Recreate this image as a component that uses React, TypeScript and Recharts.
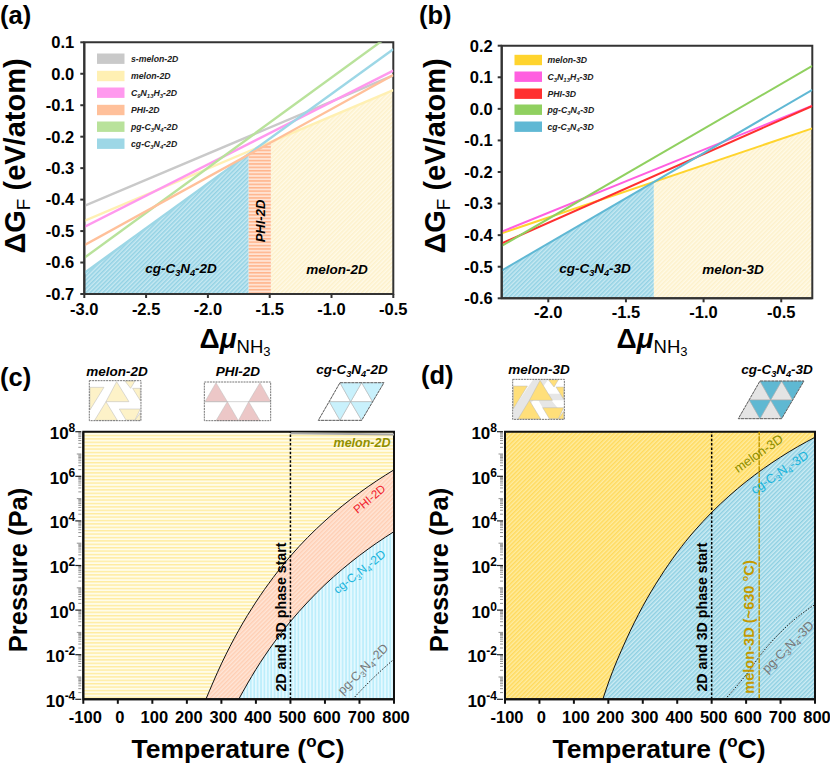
import React from "react"
import { Area, ComposedChart, Line, ReferenceArea, ReferenceLine, XAxis, YAxis } from "recharts"

const FONT = "'Liberation Sans', Arial, sans-serif"

// panel (a) line end values at x = -3.0 and x = -0.5
const muA = [-3.0, -0.5]
const sMelon2D = [-0.42, -0.005]
const melon2D = [-0.468, -0.052]
const c9n13h3_2D = [-0.487, 0.01]
const phi2D = [-0.545, -0.004]
const pg2D = [-0.585, 0.131]
const cg2D = [-0.633, 0.078]
const muATicks = [-3.0, -2.5, -2.0, -1.5, -1.0, -0.5]
const gA_Ticks = [-0.7, -0.6, -0.5, -0.4, -0.3, -0.2, -0.1, 0, 0.1]
// stable regions in (a)
const regionCgAx = [-3.0, -1.67]
const regionCgAy = [-0.633, -0.253]
const regionPhiAx = [-1.67, -1.49]
const regionPhiAy = [-0.253, -0.219]
const regionMelonAx = [-1.49, -0.5]
const regionMelonAy = [-0.219, -0.052]

// panel (b) line end values at x = -2.3 and x = -0.3
const muB = [-2.3, -0.3]
const melon3D = [-0.394, -0.062]
const c3n13h3_3D = [-0.389, 0.01]
const phi3D = [-0.426, 0.009]
const pg3D = [-0.434, 0.136]
const cg3D = [-0.512, 0.06]
const muBTicks = [-2.0, -1.5, -1.0, -0.5]
const gB_Ticks = [-0.6, -0.5, -0.4, -0.3, -0.2, -0.1, 0, 0.1, 0.2]
const regionCgBx = [-2.3, -1.32]
const regionCgBy = [-0.512, -0.233]
const regionMelonBx = [-1.32, -0.3]
const regionMelonBy = [-0.233, -0.062]

// panels (c), (d): temperature in C, pressure as log10(Pa)
const tempTicks = [-100, 0, 100, 200, 300, 400, 500, 600, 700, 800]
const fullT = [-100, 800]
const fullTop = [8, 8]
const phiUpperT = [255, 300, 350, 400, 450, 500, 550, 600, 650, 700, 750, 800]
const phiUpperP = [-4, -2.41, -0.91, 0.36, 1.46, 2.42, 3.26, 4.0, 4.67, 5.26, 5.8, 6.29]
const cgUpperT = [350, 400, 450, 500, 550, 600, 650, 700, 750, 800]
const cgUpperP = [-4, -2.66, -1.51, -0.51, 0.36, 1.14, 1.83, 2.45, 3.01, 3.52]
const pgC_T = [680, 720, 760, 800]
const pgC_P = [-4, -3.35, -2.75, -2.2]
const sMelonEdgeT = [500, 800]
const sMelonEdgeP = [7.93, 7.87]
const cg3DUpperT = [184, 200, 250, 300, 350, 400, 450, 500, 550, 600, 650, 700, 750, 800]
const cg3DUpperP = [-4, -3.27, -1.39, 0.17, 1.47, 2.59, 3.55, 4.38, 5.11, 5.76, 6.34, 6.86, 7.33, 7.75]
const pgD_T = [539, 600, 650, 700, 750, 800]
const pgD_P = [-4, -2.9, -1.85, -1.0, -0.3, 0.25]

const legendA = [
  { name: "s-melon-2D", color: "#c9c9c9", y: 58.7 },
  { name: "melon-2D", color: "#fff0b3", y: 76 },
  { name: "C_9N_13H_3-2D", color: "#ff99ee", y: 92.7 },
  { name: "PHI-2D", color: "#ffc09a", y: 110 },
  { name: "pg-C_3N_4-2D", color: "#b9e29b", y: 126.7 },
  { name: "cg-C_3N_4-2D", color: "#9dd7e6", y: 143.7 },
]
const legendB = [
  { name: "melon-3D", color: "#ffd42e", y: 60 },
  { name: "C_3N_13H_3-3D", color: "#ff5fe0", y: 76.7 },
  { name: "PHI-3D", color: "#ff3030", y: 93.7 },
  { name: "pg-C_3N_4-3D", color: "#90d060", y: 109.7 },
  { name: "cg-C_3N_4-3D", color: "#60b8d4", y: 126.7 },
]

function mergeRows(series: [string, number[], number[]][], xKey = "x") {
  const rows = new Map<number, any>()
  series.forEach(([key, xs, ys]) => {
    xs.forEach((x, i) => {
      if (!rows.has(x)) rows.set(x, { [xKey]: x })
      rows.get(x)[key] = ys[i]
    })
  })
  return [...rows.values()].sort((a, b) => a[xKey] - b[xKey])
}

const rowsA = mergeRows([
  ["sMelon", muA, sMelon2D],
  ["melon", muA, melon2D],
  ["c9", muA, c9n13h3_2D],
  ["phi", muA, phi2D],
  ["pg", muA, pg2D],
  ["cg", muA, cg2D],
  ["regCg", regionCgAx, regionCgAy],
  ["regPhi", regionPhiAx, regionPhiAy],
  ["regMelon", regionMelonAx, regionMelonAy],
])
const rowsB = mergeRows([
  ["melon", muB, melon3D],
  ["c3", muB, c3n13h3_3D],
  ["phi", muB, phi3D],
  ["pg", muB, pg3D],
  ["cg", muB, cg3D],
  ["regCg", regionCgBx, regionCgBy],
  ["regMelon", regionMelonBx, regionMelonBy],
])
const rowsC = mergeRows([
  ["melon", fullT, fullTop],
  ["phi", phiUpperT, phiUpperP],
  ["cg", cgUpperT, cgUpperP],
  ["pg", pgC_T, pgC_P],
  ["edge", sMelonEdgeT, sMelonEdgeP],
])
const rowsD = mergeRows([
  ["melon", fullT, fullTop],
  ["cg", cg3DUpperT, cg3DUpperP],
  ["pg", pgD_T, pgD_P],
])

// log axis minor ticks for each decade
const minorTicks: number[] = []
for (let d = -4; d < 8; d++) {
  for (let k = 1; k < 10; k++) minorTicks.push(d + Math.log10(k))
}
minorTicks.push(8)

function Hatch({ id, bg, fg, angle, size = 3, w = 1.5 }: any) {
  return (
    <pattern id={id} width={size} height={size} patternUnits="userSpaceOnUse" patternTransform={`rotate(${angle})`}>
      <rect width={size} height={size} fill={bg} />
      <rect width={size} height={w} fill={fg} />
    </pattern>
  )
}

function Patterns() {
  return (
    <defs>
      <Hatch id="aCg" bg="#c8e9f2" fg="#93d2e4" angle={-45} />
      <Hatch id="aPhi" bg="#ffe3d3" fg="#ffb48c" angle={0} size={3.4} />
      <Hatch id="aMelon" bg="#fffae8" fg="#fdf1cb" angle={-45} />
      <Hatch id="cMelon" bg="#fffce9" fg="#ffec9f" angle={0} size={3.4} w={1.4} />
      <Hatch id="cPhi" bg="#ffe6d8" fg="#ffcfb4" angle={-45} />
      <Hatch id="cCg" bg="#e4f9ff" fg="#b9edfb" angle={90} size={3.4} />
      <Hatch id="dMelon" bg="#ffeca0" fg="#ffda5e" angle={-45} />
      <Hatch id="dCg" bg="#cdecf4" fg="#8fd0e2" angle={-45} />
    </defs>
  )
}

const tickStyle = { fontSize: 16.5, fontWeight: 700, fontFamily: FONT, fill: "#000" }

function LogTick({ x, y, payload }: any) {
  const v = payload.value
  const isDecade = Math.abs(v - Math.round(v)) < 1e-6
  const isLabeled = isDecade && Math.round(v) % 2 === 0
  const len = isLabeled ? 6 : isDecade ? 4.5 : 3
  const stroke = isLabeled ? "#222" : "#777"
  return (
    <g>
      <line x1={x - len + 6} x2={x + 6} y1={y} y2={y} stroke={stroke} strokeWidth={isLabeled ? 1.2 : 0.8} />
      {isLabeled && (
        <text x={x} y={y + 7.5} textAnchor="end" fontFamily={FONT} fontWeight={700} fontSize={17} fill="#000">
          10
          <tspan dy={-7} fontSize={12}>
            {Math.round(v)}
          </tspan>
        </text>
      )}
    </g>
  )
}

function Frame({ x, y, color = "#333", w = 2 }: any) {
  return <ReferenceArea x1={x[0]} x2={x[1]} y1={y[0]} y2={y[1]} fill="none" stroke={color} strokeWidth={w} ifOverflow="visible" />
}

function Chem({ text, x, y, size, rotate = 0, anchor = "middle", fill = "#000", weight = 700, italic = true }: any) {
  const parts = text.split(/_(\d+)/)
  const transform = rotate ? `rotate(${rotate} ${x} ${y})` : undefined
  return (
    <text x={x} y={y} textAnchor={anchor} fontFamily={FONT} fontWeight={weight} fontStyle={italic ? "italic" : "normal"} fontSize={size} fill={fill} transform={transform}>
      {parts.map((p: string, i: number) =>
        i % 2 === 1 ? (
          <tspan key={i} dy={size * 0.22} fontSize={size * 0.68}>
            {p}
          </tspan>
        ) : (
          <tspan key={i} dy={i > 0 ? -size * 0.22 : 0}>
            {p}
          </tspan>
        ),
      )}
    </text>
  )
}

function LegendBox({ items, sx, tx }: any) {
  return (
    <g>
      {items.map((it: any) => (
        <g key={it.name}>
          <rect x={sx} y={it.y - 5.2} width={27.5} height={10.4} fill={it.color} />
          <Chem text={it.name} x={tx} y={it.y + 3} size={8.7} anchor="start" fill="#222" />
        </g>
      ))}
    </g>
  )
}

function MuTitle({ x, y }: any) {
  return (
    <text x={x} y={y} textAnchor="middle" fontFamily={FONT} fill="#000">
      <tspan fontSize={28} fontWeight={700}>Δ</tspan>
      <tspan fontSize={28} fontWeight={700} fontStyle="italic">μ</tspan>
      <tspan fontSize={18.5} dy={5}>NH</tspan>
      <tspan fontSize={13} dy={3}>3</tspan>
    </text>
  )
}

function GTitle({ x, y }: any) {
  return (
    <text transform={`rotate(-90 ${x} ${y})`} x={x} y={y} textAnchor="middle" fontFamily={FONT} fontWeight={700} fontSize={29} fill="#000">
      ΔG
      <tspan fontSize={19} dy={5} fontWeight={400}>F</tspan>
      <tspan dy={-5}> (eV/atom)</tspan>
    </text>
  )
}

function PressureTitle({ x, y }: any) {
  return (
    <text transform={`rotate(-90 ${x} ${y})`} x={x} y={y} textAnchor="middle" fontFamily={FONT} fontWeight={700} fontSize={25.5} fill="#000">
      Pressure (Pa)
    </text>
  )
}

function TempTitle({ x, y }: any) {
  return (
    <text x={x} y={y} textAnchor="middle" fontFamily={FONT} fontWeight={700} fontSize={26.5} fill="#000">
      Temperature (
      <tspan fontSize={17} dy={-11}>o</tspan>
      <tspan dy={11}>C)</tspan>
    </text>
  )
}

function Letter({ x, y, children }: any) {
  return (
    <text x={x} y={y} fontFamily={FONT} fontWeight={700} fontSize={25.5} fill="#000">
      {children}
    </text>
  )
}

const tri = (pts: number[][]) => pts.map((p) => p.join(",")).join(" ")

function MelonCell({ dx, dy, fill, strip }: any) {
  const p = (pts: number[][]) => tri(pts.map(([a, b]) => [(a - 268) / 3 + dx, b / 3 + dy]))
  const box = p([[268, 62], [423, 62], [423, 182], [268, 182]])
  return (
    <g>
      <polygon points={box} fill="#fff" />
      {strip && (
        <g fill={strip}>
          <polygon points={p([[330, 62], [375, 62], [330, 125], [284, 182], [270, 182], [270, 150]])} />
          <polygon points={p([[385, 105], [423, 105], [423, 125], [340, 125], [352, 105]])} />
          <polygon points={p([[384, 125], [405, 150], [358, 147], [345, 125]])} />
        </g>
      )}
      <g fill={fill} stroke="#b9b9b9" strokeWidth={0.5}>
        <polygon points={p([[270, 82], [312, 82], [270, 150]])} />
        <polygon points={p([[350, 65], [318, 125], [387, 125]])} />
        <polygon points={p([[318, 125], [352, 181], [284, 181]])} />
        <polygon points={p([[358, 147], [421, 147], [405, 180], [378, 180]])} />
        <polygon points={p([[375, 63], [405, 63], [392, 85]])} />
        <polygon points={p([[398, 85], [421, 85], [421, 122]])} />
        <polygon points={p([[405, 181], [421, 158], [421, 181]])} />
      </g>
      <polygon points={box} fill="none" stroke="#666" strokeWidth={0.9} strokeDasharray="2 0.8" />
    </g>
  )
}

function PhiCell() {
  const p = (pts: number[][]) => tri(pts.map(([a, b]) => [a / 3, b / 3 + 360]))
  return (
    <g>
      <g fill="#ecc7c7" stroke="#bbb" strokeWidth={0.5}>
        <polygon points={p([[648, 68], [615, 125], [682, 125]])} />
        <polygon points={p([[780, 68], [746, 125], [812, 125]])} />
        <polygon points={p([[682, 125], [648, 182], [715, 182]])} />
        <polygon points={p([[746, 125], [715, 182], [780, 182]])} />
      </g>
      <line x1={613 / 3} x2={812 / 3} y1={125 / 3 + 360} y2={125 / 3 + 360} stroke="#bbb" strokeWidth={0.6} />
      <polygon points={p([[613, 66], [812, 66], [812, 182], [613, 182]])} fill="none" stroke="#666" strokeWidth={0.9} strokeDasharray="2 0.8" />
    </g>
  )
}

function CgCell({ dx, dy, down, up }: any) {
  const p = (pts: number[][]) => tri(pts.map(([a, b]) => [a / 3 + dx, b / 3 + dy]))
  const top = [[65, 0], [130, 0], [197, 0]]
  const mid = [[33, 57], [97, 57], [163, 57]]
  const bot = [[0, 113], [65, 113], [130, 113]]
  const downs = [[top[0], top[1], mid[1]], [top[1], top[2], mid[2]], [mid[0], mid[1], bot[1]], [mid[1], mid[2], bot[2]]]
  const ups = [[mid[0], top[0], mid[1]], [mid[1], top[1], mid[2]], [bot[0], mid[0], bot[1]], [bot[1], mid[1], bot[2]]]
  return (
    <g>
      {ups.map((u, i) => (
        <polygon key={i} points={p(u)} fill={up} stroke="#aaa" strokeWidth={0.5} />
      ))}
      {downs.map((u, i) => (
        <polygon key={i} points={p(u)} fill={down} stroke="#aaa" strokeWidth={0.5} />
      ))}
      <polygon points={p([top[0], top[2], bot[2], bot[0]])} fill="none" stroke="#555" strokeWidth={0.9} strokeDasharray="3 0.8" />
    </g>
  )
}

function Overlay() {
  return (
    <svg width={830} height={763} style={{ position: "absolute", left: 0, top: 0, pointerEvents: "none" }}>
      <Letter x={0} y={23.5}>(a)</Letter>
      <Letter x={419} y={23.5}>(b)</Letter>
      <Letter x={0} y={386}>(c)</Letter>
      <Letter x={421} y={384}>(d)</Letter>

      <GTitle x={25} y={156} />
      <GTitle x={445} y={156} />
      <MuTitle x={235} y={348} />
      <MuTitle x={652} y={348} />
      <PressureTitle x={27} y={570} />
      <PressureTitle x={448} y={570} />
      <TempTitle x={238} y={758} />
      <TempTitle x={659} y={758} />

      <LegendBox items={legendA} sx={97} tx={131} />
      <LegendBox items={legendB} sx={514.5} tx={547.5} />

      <Chem text="cg-C_3N_4-2D" x={181} y={273} size={13.5} />
      <Chem text="PHI-2D" x={265} y={221} size={13} rotate={-90} />
      <Chem text="melon-2D" x={337} y={274} size={13.5} />
      <Chem text="cg-C_3N_4-3D" x={595} y={273} size={13.5} />
      <Chem text="melon-3D" x={733} y={274} size={13.5} />

      <Chem text="melon-2D" x={117} y={376} size={13.5} />
      <Chem text="PHI-2D" x={238} y={376} size={13.5} />
      <Chem text="cg-C_3N_4-2D" x={352} y={374} size={13.5} />
      <Chem text="melon-3D" x={539} y={374} size={13.5} />
      <Chem text="cg-C_3N_4-3D" x={777} y={374} size={13.5} />
      <MelonCell dx={89.3} dy={360} fill="#fdf2c8" />
      <PhiCell />
      <CgCell dx={318.3} dy={382.7} down="#c9f1fc" up="#fff" />
      <MelonCell dx={512.7} dy={358.7} fill="#ffdf7a" strip="#e6e6e6" />
      <CgCell dx={738.3} dy={381} down="#5fb8d2" up="#e4e4e4" />

      <Chem text="melon-2D" x={390.5} y={447} size={12.5} anchor="end" fill="#8f8f00" />
      <Chem text="PHI-2D" x={372} y={502} size={11.5} rotate={-40} fill="#f0202c" italic={false} weight={400} />
      <Chem text="cg-C_3N_4-2D" x={362} y={575} size={12} rotate={-38} fill="#18b4dc" italic={false} weight={400} />
      <Chem text="pg-C_3N_4-2D" x={366} y={672} size={12.5} rotate={-45} fill="#777" italic={false} weight={400} />
      <Chem text="2D and 3D phase start" x={286} y={617} size={14.2} rotate={-90} italic={false} />

      <Chem text="melon-3D" x={761} y={457} size={13} rotate={-35} fill="#8f8f00" italic={false} weight={400} />
      <Chem text="cg-C_3N_4-3D" x={782} y={476} size={12.8} rotate={-34} fill="#18b4dc" italic={false} weight={400} />
      <Chem text="2D and 3D phase start" x={707} y={617} size={14.2} rotate={-90} italic={false} />
      <Chem text="melon-3D (~630 °C)" x={754} y={627} size={14.6} rotate={-90} fill="#c49a00" italic={false} />
      <Chem text="pg-C_3N_4-3D" x={791} y={650} size={12.8} rotate={-45} fill="#777" italic={false} weight={400} />
    </svg>
  )
}

function PanelA() {
  return (
    <ComposedChart width={415} height={360} data={rowsA} margin={{ top: 42.3, right: 21.7, bottom: 0, left: 0 }}>
      <Patterns />
      <XAxis dataKey="x" type="number" domain={[-3, -0.5]} ticks={muATicks} tickFormatter={(v) => v.toFixed(1)} interval={0} height={66} tick={tickStyle} tickSize={4} tickMargin={5} stroke="#333" strokeWidth={2} allowDataOverflow />
      <YAxis type="number" domain={[-0.7, 0.1]} ticks={gA_Ticks} tickFormatter={(v) => v.toFixed(1)} interval={0} width={84.3} tick={tickStyle} tickSize={4} tickMargin={6} stroke="#333" strokeWidth={2} allowDataOverflow />
      <Area dataKey="regCg" baseValue={-0.7} connectNulls fill="url(#aCg)" fillOpacity={1} stroke="none" isAnimationActive={false} />
      <Area dataKey="regPhi" baseValue={-0.7} connectNulls fill="url(#aPhi)" fillOpacity={1} stroke="none" isAnimationActive={false} />
      <Area dataKey="regMelon" baseValue={-0.7} connectNulls fill="url(#aMelon)" fillOpacity={1} stroke="none" isAnimationActive={false} />
      <Line dataKey="sMelon" connectNulls dot={false} stroke="#c9c9c9" strokeWidth={2.4} isAnimationActive={false} />
      <Line dataKey="melon" connectNulls dot={false} stroke="#fff0b3" strokeWidth={2.4} isAnimationActive={false} />
      <Line dataKey="c9" connectNulls dot={false} stroke="#ff99ee" strokeWidth={2.4} isAnimationActive={false} />
      <Line dataKey="pg" connectNulls dot={false} stroke="#b9e29b" strokeWidth={2.4} isAnimationActive={false} />
      <Line dataKey="cg" connectNulls dot={false} stroke="#9dd7e6" strokeWidth={2.4} isAnimationActive={false} />
      <Line dataKey="phi" connectNulls dot={false} stroke="#ffc09a" strokeWidth={2.4} isAnimationActive={false} />
      <Frame x={[-3, -0.5]} y={[-0.7, 0.1]} />
    </ComposedChart>
  )
}

function PanelB() {
  return (
    <ComposedChart width={415} height={360} data={rowsB} margin={{ top: 45.7, right: 17.7, bottom: 0, left: 0 }}>
      <Patterns />
      <XAxis dataKey="x" type="number" domain={[-2.3, -0.3]} ticks={muBTicks} tickFormatter={(v) => v.toFixed(1)} interval={0} height={61.7} tick={tickStyle} tickSize={4} tickMargin={4} stroke="#333" strokeWidth={2} allowDataOverflow />
      <YAxis type="number" domain={[-0.6, 0.2]} ticks={gB_Ticks} tickFormatter={(v) => v.toFixed(1)} interval={0} width={86.7} tick={tickStyle} tickSize={4} tickMargin={5} stroke="#333" strokeWidth={2} allowDataOverflow />
      <Area dataKey="regCg" baseValue={-0.6} connectNulls fill="url(#aCg)" fillOpacity={1} stroke="none" isAnimationActive={false} />
      <Area dataKey="regMelon" baseValue={-0.6} connectNulls fill="url(#aMelon)" fillOpacity={1} stroke="none" isAnimationActive={false} />
      <Line dataKey="melon" connectNulls dot={false} stroke="#ffd42e" strokeWidth={2} isAnimationActive={false} />
      <Line dataKey="c3" connectNulls dot={false} stroke="#ff5fe0" strokeWidth={2} isAnimationActive={false} />
      <Line dataKey="phi" connectNulls dot={false} stroke="#ff3030" strokeWidth={2} isAnimationActive={false} />
      <Line dataKey="pg" connectNulls dot={false} stroke="#90d060" strokeWidth={2} isAnimationActive={false} />
      <Line dataKey="cg" connectNulls dot={false} stroke="#60b8d4" strokeWidth={2} isAnimationActive={false} />
      <Frame x={[-2.3, -0.3]} y={[-0.6, 0.2]} />
    </ComposedChart>
  )
}

function PanelC() {
  return (
    <ComposedChart width={415} height={403} data={rowsC} margin={{ top: 71.7, right: 21, bottom: 0, left: 0 }}>
      <Patterns />
      <XAxis dataKey="x" type="number" domain={[-100, 800]} ticks={tempTicks} interval={0} height={63.7} tick={{ ...tickStyle, dx: 2 }} tickSize={4.5} tickMargin={7} stroke="#111" strokeWidth={2} allowDataOverflow />
      <YAxis type="number" domain={[-4, 8]} ticks={minorTicks} interval={0} width={83.3} tick={LogTick} tickLine={false} stroke="#111" strokeWidth={2} allowDataOverflow />
      <Area dataKey="melon" baseValue={-4} connectNulls fill="url(#cMelon)" fillOpacity={1} stroke="none" isAnimationActive={false} />
      <Area dataKey="phi" type="monotone" baseValue={-4} connectNulls fill="url(#cPhi)" fillOpacity={1} stroke="#111" strokeWidth={1} isAnimationActive={false} />
      <Area dataKey="cg" type="monotone" baseValue={-4} connectNulls fill="url(#cCg)" fillOpacity={1} stroke="#111" strokeWidth={1} isAnimationActive={false} />
      <Line dataKey="pg" type="monotone" connectNulls dot={false} stroke="#222" strokeWidth={1} strokeDasharray="1.5 1.5" isAnimationActive={false} />
      <Line dataKey="edge" connectNulls dot={false} stroke="#aaa" strokeWidth={2} isAnimationActive={false} />
      <ReferenceLine x={500} stroke="#000" strokeWidth={1.5} strokeDasharray="2.5 1.8" />
      <Frame x={[-100, 800]} y={[-4, 8]} color="#111" />
    </ComposedChart>
  )
}

function PanelD() {
  return (
    <ComposedChart width={415} height={403} data={rowsD} margin={{ top: 71.7, right: 15, bottom: 0, left: 0 }}>
      <Patterns />
      <XAxis dataKey="x" type="number" domain={[-100, 800]} ticks={tempTicks} interval={0} height={63.7} tick={{ ...tickStyle, dx: 2 }} tickSize={4.5} tickMargin={7} stroke="#111" strokeWidth={2} allowDataOverflow />
      <YAxis type="number" domain={[-4, 8]} ticks={minorTicks} interval={0} width={90} tick={LogTick} tickLine={false} stroke="#111" strokeWidth={2} allowDataOverflow />
      <Area dataKey="melon" baseValue={-4} connectNulls fill="url(#dMelon)" fillOpacity={1} stroke="none" isAnimationActive={false} />
      <Area dataKey="cg" type="monotone" baseValue={-4} connectNulls fill="url(#dCg)" fillOpacity={1} stroke="#111" strokeWidth={1} isAnimationActive={false} />
      <Line dataKey="pg" type="monotone" connectNulls dot={false} stroke="#222" strokeWidth={1} strokeDasharray="1.5 1.5" isAnimationActive={false} />
      <ReferenceLine x={500} stroke="#000" strokeWidth={1.5} strokeDasharray="2.5 1.8" />
      <ReferenceLine x={638} stroke="#c49a00" strokeWidth={1.5} strokeDasharray="5 1" />
      <Frame x={[-100, 800]} y={[-4, 8]} color="#111" />
    </ComposedChart>
  )
}

export default function App() {
  return (
    <div style={{ position: "absolute", left: 0, top: 0, width: 830, height: 763, background: "#fff", overflow: "hidden" }}>
      <div style={{ position: "absolute", left: 0, top: 0 }}><PanelA /></div>
      <div style={{ position: "absolute", left: 415, top: 0 }}><PanelB /></div>
      <div style={{ position: "absolute", left: 0, top: 360 }}><PanelC /></div>
      <div style={{ position: "absolute", left: 415, top: 360 }}><PanelD /></div>
      <Overlay />
    </div>
  )
}
